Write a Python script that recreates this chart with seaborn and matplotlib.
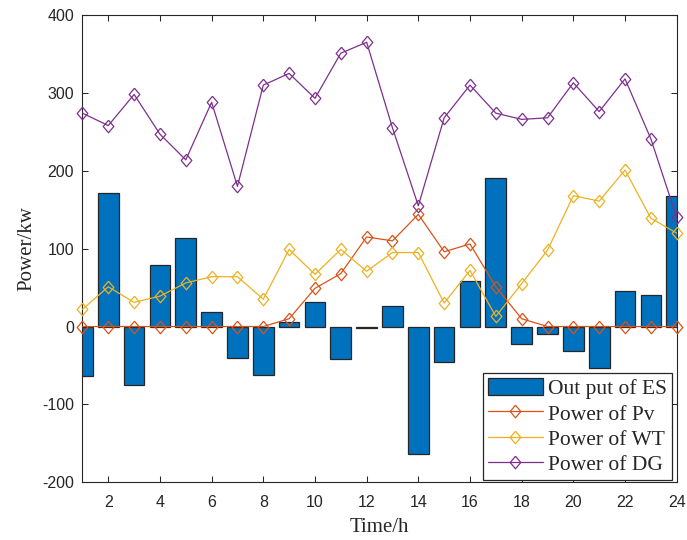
import numpy as np
import pandas as pd
import matplotlib
matplotlib.use("Agg")
import matplotlib.pyplot as plt
import seaborn as sns

hours = list(range(1, 25))
es_output = [-63, 171, -75, 79, 114, 19, -40, -62, 6, 31, -42, -2,
             26, -164, -45, 59, 191, -22, -9, -32, -53, 46, 41, 167]
pv_power = [0, 0, 0, 0, 0, 0, 0, 0, 10, 49, 68, 115,
            110, 144, 96, 106, 51, 10, 0, 0, 0, 0, 0, 0]
wt_power = [22, 51, 31, 39, 56, 64, 64, 35, 99, 67, 99, 71,
            95, 95, 30, 72, 13, 55, 98, 168, 161, 201, 139, 120]
dg_power = [274, 258, 298, 247, 214, 288, 180, 310, 325, 293, 351, 365,
            255, 155, 268, 310, 274, 266, 268, 313, 276, 318, 241, 140]

labels = ["Out put of ES", "Power of Pv", "Power of WT", "Power of DG"]
xticks = list(range(2, 25, 2))
yticks = list(range(-200, 401, 100))

sns.set_theme(style="white")
plt.rcParams['font.family'] = ['Liberation Sans', 'DejaVu Sans']
plt.rcParams['axes.unicode_minus'] = False

fig = plt.figure(figsize=(6.87, 5.40), dpi=100)
ax = fig.add_axes([0.1200, 0.1069, 0.8650, 0.8653])

axcol = "#262626"
c_bar = "#0072BD"
c_pv = "#D95319"
c_wt = "#EDB120"
c_dg = "#7E2F8E"

df = pd.DataFrame({"hour": hours, "es": es_output, "pv": pv_power,
                   "wt": wt_power, "dg": dg_power})

sns.barplot(data=df, x="hour", y="es", native_scale=True, width=0.8,
            color=c_bar, saturation=1, edgecolor=axcol, linewidth=0.9,
            label=labels[0], ax=ax, errorbar=None, zorder=2)

diamond = [(0, 1), (0.85, 0), (0, -1), (-0.85, 0), (0, 1)]
for col, c, lab in [("pv", c_pv, labels[1]), ("wt", c_wt, labels[2]),
                    ("dg", c_dg, labels[3])]:
    sns.lineplot(data=df, x="hour", y=col, ax=ax, color=c, linewidth=0.9,
                 marker=diamond, markersize=9, markerfacecolor="none",
                 markeredgecolor=c, markeredgewidth=0.9, label=lab,
                 zorder=3, clip_on=False)

ax.set_xlim(1, 24)
ax.set_ylim(-200, 400)
ax.set_xticks(xticks)
ax.set_yticks(yticks)
ax.tick_params(axis="both", which="both", direction="in", length=4.5,
               width=0.75, color=axcol, labelcolor=axcol, labelsize=11.5,
               top=True, right=True, bottom=True, left=True)
ax.tick_params(axis="x", pad=9)
ax.tick_params(axis="y", pad=6)
for sp in ax.spines.values():
    sp.set_color(axcol)
    sp.set_linewidth(0.8)
    sp.set_visible(True)

ax.set_xlabel("Time/h", fontfamily="Liberation Serif", fontsize=15,
              color=axcol, labelpad=6)
ax.set_ylabel("Power/kw", fontfamily="Liberation Serif", fontsize=15,
              color=axcol, labelpad=4)

handles, labs = ax.get_legend_handles_labels()
order = [labs.index(l) for l in labels]
leg = ax.legend([handles[i] for i in order], [labs[i] for i in order],
                loc="lower right", bbox_to_anchor=(0.992, 0.005),
                borderaxespad=0, frameon=True, fancybox=False,
                prop={"family": "Liberation Serif", "size": 15.5},
                handlelength=2.55, handleheight=0.85, handletextpad=0.25,
                labelspacing=0.2, borderpad=0.22)
leg.get_frame().set_edgecolor(axcol)
leg.get_frame().set_linewidth(0.9)
leg.get_frame().set_alpha(1)

fig.savefig("out.png", dpi=100)
